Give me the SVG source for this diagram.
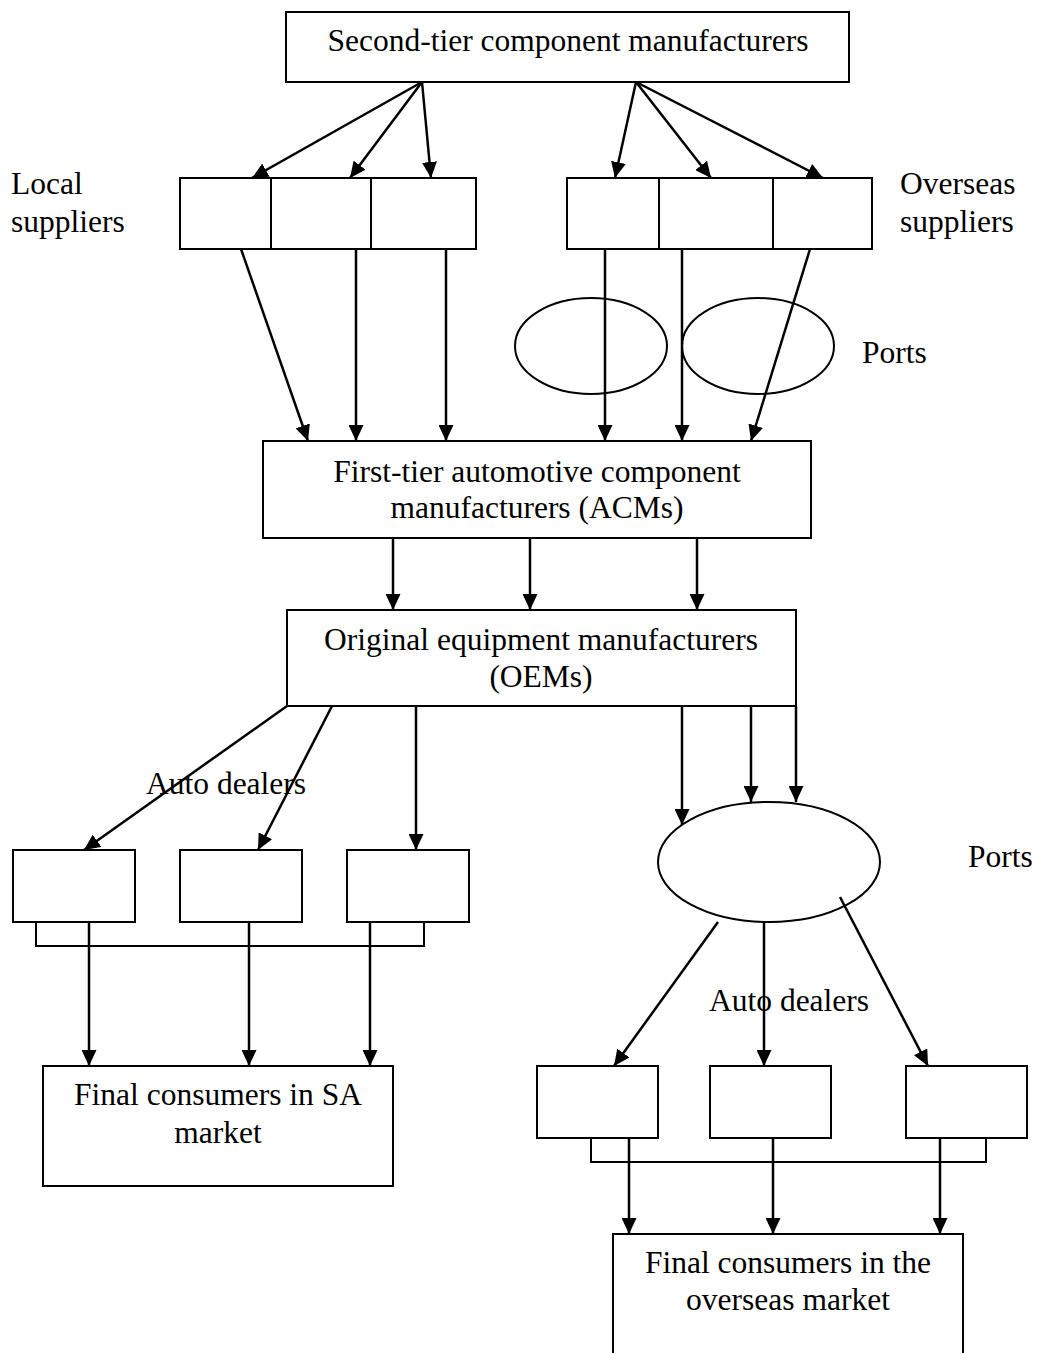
<svg xmlns="http://www.w3.org/2000/svg" width="1037" height="1353" viewBox="0 0 1037 1353">
  <style>
    .box { fill: none; stroke: #000; stroke-width: 2; }
    .div { stroke: #000; stroke-width: 2; fill: none; }
    .port { fill: none; stroke: #000; stroke-width: 2; }
    .edge { stroke: #000; stroke-width: 2.5; fill: none; marker-end: url(#arr); }
    .link { stroke: #000; stroke-width: 2; fill: none; }
    text { font-family: "Liberation Serif", "Times New Roman", serif; font-size: 31.5px; fill: #000; }
    .c { text-anchor: middle; }
  </style>
  <defs>
    <marker id="arr" viewBox="0 0 16 15" refX="16" refY="7.5" markerWidth="16" markerHeight="15" markerUnits="userSpaceOnUse" orient="auto">
      <path d="M0,0 L16,7.5 L0,15 z" fill="#000"/>
    </marker>
  </defs>

  <rect width="1037" height="1353" fill="#fff"/>

  <!-- connectors -->
  <g id="connectors">
    <!-- second tier to suppliers -->
    <line class="edge" x1="422" y1="82" x2="252" y2="178"/>
    <line class="edge" x1="422" y1="82" x2="350" y2="178"/>
    <line class="edge" x1="422" y1="82" x2="431" y2="178"/>
    <line class="edge" x1="636" y1="82" x2="615" y2="178"/>
    <line class="edge" x1="636" y1="82" x2="711" y2="178"/>
    <line class="edge" x1="636" y1="82" x2="823" y2="178"/>
    <!-- suppliers to ACMs -->
    <line class="edge" x1="241" y1="249" x2="308" y2="441"/>
    <line class="edge" x1="356" y1="249" x2="356" y2="441"/>
    <line class="edge" x1="446" y1="249" x2="446" y2="441"/>
    <line class="edge" x1="605" y1="249" x2="605" y2="441"/>
    <line class="edge" x1="682" y1="249" x2="682" y2="441"/>
    <line class="edge" x1="810" y1="249" x2="751" y2="441"/>
    <!-- ACMs to OEMs -->
    <line class="edge" x1="393" y1="538" x2="393" y2="610"/>
    <line class="edge" x1="530" y1="538" x2="530" y2="610"/>
    <line class="edge" x1="697" y1="538" x2="697" y2="610"/>
    <!-- OEMs to local dealers -->
    <line class="edge" x1="287" y1="706" x2="84" y2="850"/>
    <line class="edge" x1="332" y1="706" x2="258" y2="850"/>
    <line class="edge" x1="416" y1="706" x2="416" y2="850"/>
    <!-- local dealers to SA consumers -->
    <polyline class="link" points="36,922 36,946 424,946 424,922"/>
    <line class="edge" x1="89" y1="922" x2="89" y2="1066"/>
    <line class="edge" x1="249" y1="922" x2="249" y2="1066"/>
    <line class="edge" x1="370" y1="922" x2="370" y2="1066"/>
    <!-- OEMs to export port -->
    <line class="edge" x1="682" y1="706" x2="682" y2="825"/>
    <line class="edge" x1="751" y1="706" x2="751" y2="802"/>
    <line class="edge" x1="796" y1="706" x2="796" y2="802"/>
    <!-- port to overseas dealers -->
    <line class="edge" x1="718" y1="922" x2="614" y2="1066"/>
    <line class="edge" x1="764" y1="922" x2="764" y2="1066"/>
    <line class="edge" x1="840" y1="897" x2="928" y2="1066"/>
    <!-- overseas dealers to overseas consumers -->
    <polyline class="link" points="591,1138 591,1162 986,1162 986,1138"/>
    <line class="edge" x1="629" y1="1138" x2="629" y2="1234"/>
    <line class="edge" x1="773" y1="1138" x2="773" y2="1234"/>
    <line class="edge" x1="940" y1="1138" x2="940" y2="1234"/>
  </g>

  <g id="second-tier">
    <rect class="box" x="286" y="12" width="563" height="70"/>
    <text class="c" x="568" y="51">Second-tier component manufacturers</text>
  </g>

  <g id="local-suppliers">
    <rect class="box" x="180" y="178" width="296" height="71"/>
    <line class="div" x1="271" y1="178" x2="271" y2="249"/>
    <line class="div" x1="371" y1="178" x2="371" y2="249"/>
    <text x="11" y="194">Local</text>
    <text x="11" y="232">suppliers</text>
  </g>

  <g id="overseas-suppliers">
    <rect class="box" x="567" y="178" width="305" height="71"/>
    <line class="div" x1="659" y1="178" x2="659" y2="249"/>
    <line class="div" x1="773" y1="178" x2="773" y2="249"/>
    <text x="900" y="194">Overseas</text>
    <text x="900" y="232">suppliers</text>
  </g>

  <g id="import-ports">
    <ellipse class="port" cx="591" cy="346" rx="76" ry="48"/>
    <ellipse class="port" cx="758" cy="346" rx="76" ry="48"/>
    <text x="862" y="363">Ports</text>
  </g>

  <g id="acms">
    <rect class="box" x="263" y="441" width="548" height="97"/>
    <text class="c" x="537" y="482">First-tier automotive component</text>
    <text class="c" x="537" y="518">manufacturers (ACMs)</text>
  </g>

  <g id="oems">
    <rect class="box" x="287" y="610" width="509" height="96"/>
    <text class="c" x="541" y="650">Original equipment manufacturers</text>
    <text class="c" x="541" y="687">(OEMs)</text>
  </g>

  <g id="local-dealers">
    <rect class="box" x="13" y="850" width="122" height="72"/>
    <rect class="box" x="180" y="850" width="122" height="72"/>
    <rect class="box" x="347" y="850" width="122" height="72"/>
    <text x="146" y="794">Auto dealers</text>
  </g>

  <g id="sa-consumers">
    <rect class="box" x="43" y="1066" width="350" height="120"/>
    <text class="c" x="218" y="1105">Final consumers in SA</text>
    <text class="c" x="218" y="1143">market</text>
  </g>

  <g id="export-port">
    <ellipse class="port" cx="769" cy="862" rx="111" ry="60"/>
    <text x="968" y="867">Ports</text>
  </g>

  <g id="overseas-dealers">
    <rect class="box" x="537" y="1066" width="121" height="72"/>
    <rect class="box" x="710" y="1066" width="121" height="72"/>
    <rect class="box" x="906" y="1066" width="121" height="72"/>
    <text x="709" y="1011">Auto dealers</text>
  </g>

  <g id="overseas-consumers">
    <rect class="box" x="613" y="1234" width="350" height="140"/>
    <text class="c" x="788" y="1273">Final consumers in the</text>
    <text class="c" x="788" y="1310">overseas market</text>
  </g>
</svg>
